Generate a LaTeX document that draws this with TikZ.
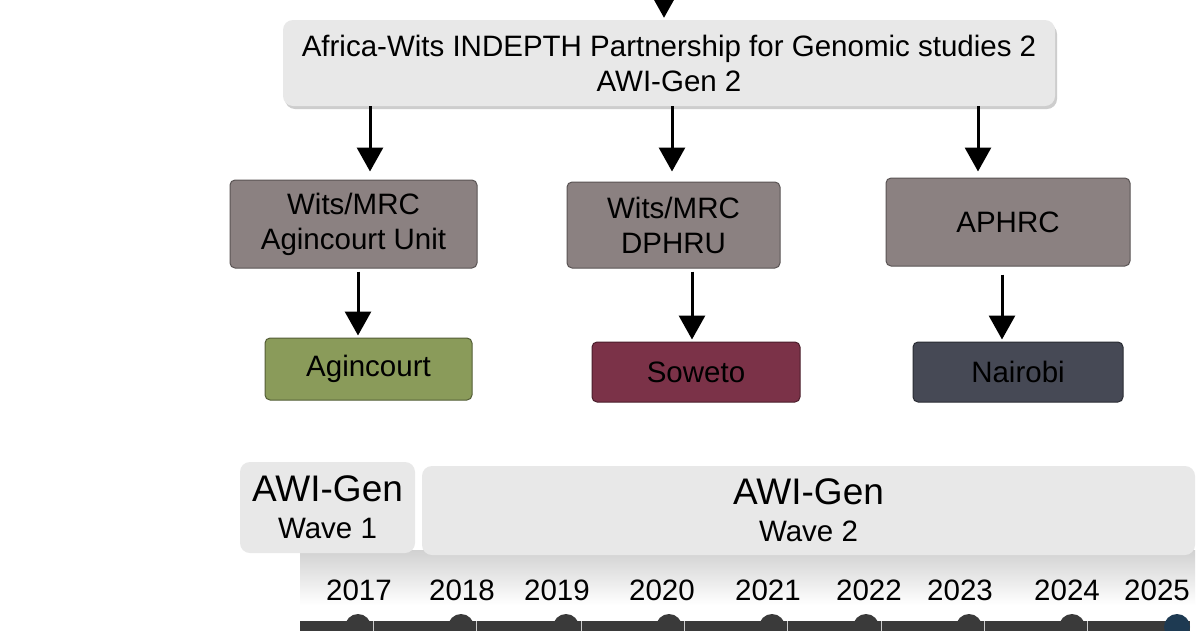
\documentclass[tikz,border=0pt]{standalone}
\usepackage{fontspec}
\setmainfont{Liberation Sans}
\usetikzlibrary{arrows.meta,calc}
\definecolor{boxgrey}{RGB}{232,232,232}
\definecolor{shadowgrey}{RGB}{205,205,205}
\definecolor{midgrey}{RGB}{139,129,129}
\definecolor{olive}{RGB}{138,155,90}
\definecolor{maroon}{RGB}{123,50,72}
\definecolor{slate}{RGB}{70,73,85}
\definecolor{bardark}{RGB}{58,58,58}
\definecolor{teal}{RGB}{30,58,82}
\tikzset{
  basefont/.style={font=\fontsize{29.5}{35}\selectfont},
  lightbox/.style={basefont, fill=boxgrey, rounded corners=10pt, inner sep=0pt, align=center},
  midbox/.style={basefont, fill=midgrey, draw=midgrey!65!black, line width=1pt, rounded corners=5pt, inner sep=0pt, align=center},
  sitebox/.style={basefont, draw=#1!60!black, fill=#1, line width=1pt, rounded corners=5pt, inner sep=0pt, align=center},
  arr/.style={line width=3pt, -{Triangle[width=26pt,length=24pt]}},
  yearlbl/.style={basefont, inner sep=0pt},
  dot/.style={circle, fill=bardark, minimum size=26pt, inner sep=0pt},
}
\begin{document}
\begin{tikzpicture}[x=1pt,y=-1pt]
\useasboundingbox (0,0) rectangle (1200,630);
\clip (0,0) rectangle (1200,630);
\fill[white] (0,0) rectangle (1200,630);

% top box
\fill[shadowgrey, rounded corners=10pt] (285,24) rectangle (1057,109);
\node[lightbox, minimum width=772pt, minimum height=86pt] (top) at (669,63)
  {Africa-Wits INDEPTH Partnership for Genomic studies 2\\AWI-Gen 2};
\coordinate (in) at (664,-30);
\draw[arr] (in) -- ([xshift=-5pt,yshift=2pt]top.north);

% middle boxes
\node[midbox, minimum width=247pt, minimum height=88pt] (m1) at (353.5,224) {Wits/MRC\\Agincourt Unit};
\node[midbox, minimum width=213pt, minimum height=86pt] (m2) at (673.5,225) {Wits/MRC\\DPHRU};
\node[midbox, minimum width=244pt, minimum height=88pt] (m3) at (1008,222) {APHRC};

\draw[arr] ([xshift=16.5pt]top.south -| m1.north) -- ([xshift=16.5pt,yshift=8pt]m1.north);
\draw[arr] ([xshift=-1.5pt]top.south -| m2.north) -- ([xshift=-1.5pt,yshift=10pt]m2.north);
\draw[arr] ([xshift=-30pt]top.south -| m3.north) -- ([xshift=-30pt,yshift=6pt]m3.north);

% site boxes
\node[sitebox=olive, minimum width=207pt, minimum height=62pt] (s1) at (368.5,369) {Agincourt};
\node[sitebox=maroon, minimum width=208pt, minimum height=60pt] (s2) at (696,372) {Soweto};
\node[sitebox=slate, minimum width=210pt, minimum height=60pt] (s3) at (1018,372) {Nairobi};

\draw[arr] ([xshift=4.5pt,yshift=-3pt]m1.south) -- ([xshift=-10.5pt,yshift=2pt]s1.north);
\draw[arr] ([xshift=18.5pt,yshift=-3pt]m2.south) -- ([xshift=-4pt,yshift=2pt]s2.north);
\draw[arr] ([xshift=-6pt,yshift=-8pt]m3.south) -- ([xshift=-16pt,yshift=2pt]s3.north);

% timeline panel
\shade[top color=black!18, bottom color=white] (300,550) rectangle (1195,605);
\fill[white] (300,605) rectangle (1195,630);

% wave boxes
\node[lightbox, minimum width=175pt, minimum height=91pt] (w1) at (327.5,507.5)
  {{\fontsize{37}{40}\selectfont AWI-Gen}\\[2pt]Wave 1};
\node[lightbox, minimum width=773pt, minimum height=89pt] (w2) at (808.5,510.5)
  {{\fontsize{37}{40}\selectfont AWI-Gen}\\[2pt]Wave 2};

% years
\node[yearlbl] (y17) at (359,590) {2017};
\node[yearlbl] (y18) at (462,590) {2018};
\node[yearlbl] (y19) at (557,590) {2019};
\node[yearlbl] (y20) at (662,590) {2020};
\node[yearlbl] (y21) at (768,590) {2021};
\node[yearlbl] (y22) at (869,590) {2022};
\node[yearlbl] (y23) at (960,590) {2023};
\node[yearlbl] (y24) at (1067,590) {2024};
\node[yearlbl] (y25) at (1157,590) {2025};

% bar and dots
\fill[bardark] (300,621) rectangle (1190,634);
\foreach \x/\n in {358/d17,461/d18,566/d19,669/d20,772/d21,866/d22,969/d23,1072/d24}{
  \draw[white!80!black, line width=1pt] (\x+15,621) -- (\x+15,634);
  \node[dot] (\n) at (\x,627) {};
}
\node[dot, fill=teal] (d25) at (1177,627) {};
\end{tikzpicture}
\end{document}
